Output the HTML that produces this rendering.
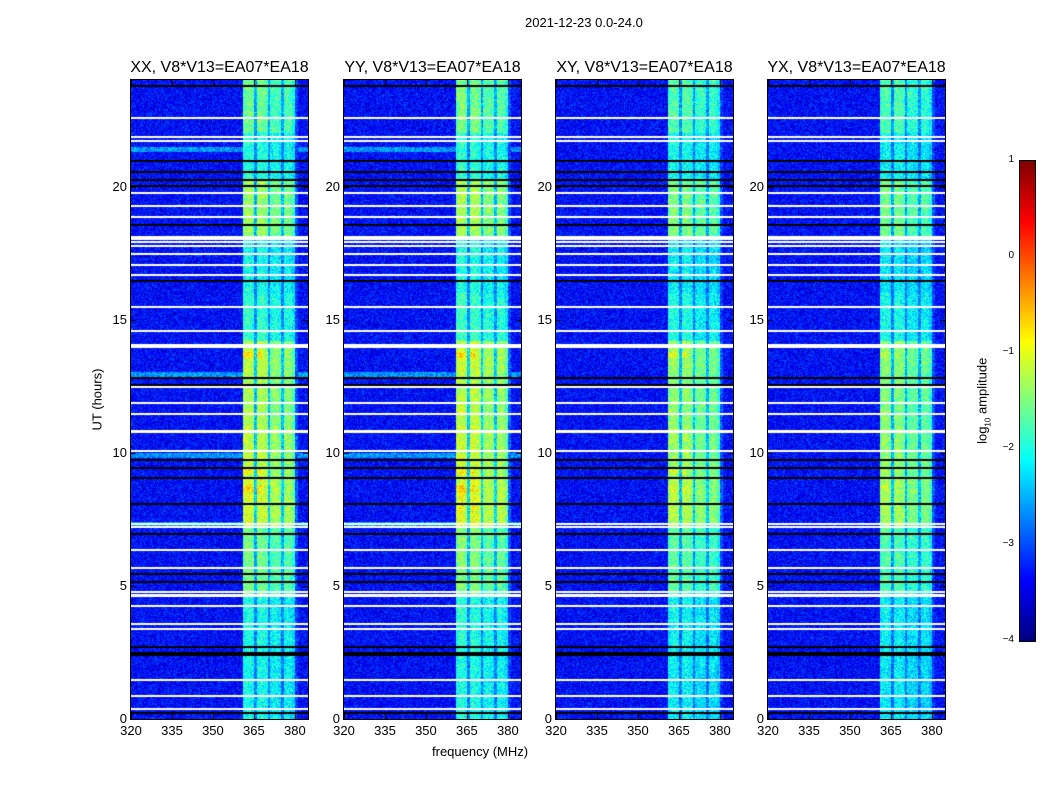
<!DOCTYPE html>
<html><head><meta charset="utf-8"><style>
body{margin:0;background:#fff;width:1050px;height:800px;position:relative;font-family:"Liberation Sans","DejaVu Sans",sans-serif;overflow:hidden}
.t{position:absolute;font-size:13px;color:#000;white-space:nowrap}
canvas{position:absolute}
</style></head><body>
<div class="t" style="left:525px;top:15px">2021-12-23 0.0-24.0</div>
<div class="t" style="left:432px;top:744px">frequency (MHz)</div>
<div class="t" style="left:52px;top:392px;transform:rotate(-90deg);transform-origin:center;width:90px;text-align:center">UT (hours)</div>
<div class="t" style="left:936px;top:392px;transform:rotate(-90deg);width:95px;text-align:center">log<sub style="font-size:8px">10</sub> amplitude</div>
<canvas id="cb" style="left:1019px;top:160px;border:1px solid #000" width="15" height="480"></canvas>
<div id="root"></div>
<script>
const panelTitles=["XX, V8*V13=EA07*EA18","YY, V8*V13=EA07*EA18","XY, V8*V13=EA07*EA18","YX, V8*V13=EA07*EA18"];
const panelLeft=[131,344,556,768];
const panelScale=[1.0,1.04,0.93,0.9];
const panelStripe=[1,1,0,0];
const panelHot=[1,0.8,0.7,0.3];
const xTicks=[320,335,350,365,380];
const yTicks=[0,5,10,15,20];
const cbTicks=[1,0,-1,-2,-3,-4];
// band amplitude per 1 MHz channel starting at 320 MHz
const bandAmp=[0,0,0,0,0,0,0,0,0,0,0,0,0,0,0,0,0,0,0,0,0,0,0,0,0,0,0,0,0,0,0,0,0,0,0,0,0,0,0,0,0,0.95,1,1,0.95,0.45,0.95,1,0.97,0.92,0.45,0.85,0.9,0.9,0.85,0.45,0.88,0.92,0.88,0.75,0.2,0,0,0,0,0];
// time activity segments [start hour, end hour, level]
const segStart=[0,2.3,4.7,7.2,9.0,11.0,13.0,14.2,16.0,18.0,20.3,22.0];
const segEnd=[2.3,4.7,7.2,9.0,11.0,13.0,14.2,16.0,18.0,20.3,22.0,24.0];
const segLevel=[0.58,0.6,0.8,1.0,0.95,0.92,0.95,0.65,0.58,0.88,0.62,0.78];
const whiteFlags=[22.6,21.9,21.75,19.8,19.3,18.9,18.15,18.05,17.95,17.8,17.5,17.1,16.7,15.5,14.6,14.1,14.0,12.5,11.9,11.5,10.85,10.8,10.1,7.35,7.25,6.4,5.7,4.8,4.7,4.65,4.3,3.6,3.4,1.5,0.9,0.4];
const blackFlags=[23.8,21.0,20.6,20.3,20.05,18.6,16.5,12.85,12.6,9.75,9.45,9.1,8.1,7.0,5.5,5.2,2.75,2.5,2.45,0.25];
const stripeHours=[21.4,12.95,9.9,7.3];
const hotStart=[13.55,9.2,8.5];const hotEnd=[13.8,9.4,8.8];const hotLevel=[0.45,0.35,0.3];

const W=177,H=639,F0=320,F1=384.8,T1=24;
function jet(v){
  const r=Math.min(Math.max(1.5-Math.abs(4*v-3),0),1),g=Math.min(Math.max(1.5-Math.abs(4*v-2),0),1),b=Math.min(Math.max(1.5-Math.abs(4*v-1),0),1);
  return [r*255|0,g*255|0,b*255|0];
}
function hash(a,b){let h=(a*374761393+b*668265263)|0;h=(h^(h>>>13))*1274126177|0;return ((h^(h>>>16))>>>0)/4294967295;}
const fx=f=>(f-F0)/(F1-F0)*W, ty=t=>H-t/T1*H;
const root=document.getElementById('root');
function el(tag,css,txt){const e=document.createElement(tag);e.style.cssText=css;if(txt!==undefined)e.textContent=txt;root.appendChild(e);return e;}
panelTitles.forEach((title,p)=>{
  const L=panelLeft[p];
  const tt=el('div','position:absolute;font-size:16px;top:59px;left:'+(L-12)+'px;width:'+(W+24)+'px;text-align:center;white-space:nowrap',title);
  
  
  const c=el('canvas','left:'+L+'px;top:80px;outline:1px solid #000');c.width=W;c.height=H;
  
  
  const ctx=c.getContext('2d');const img=ctx.createImageData(W,H);
  for(let y=0;y<H;y++){
    const t=(H-y-0.5)/H*T1;
    let row=0;for(let k=0;k<segStart.length;k++)if(t>=segStart[k]&&t<segEnd[k])row=segLevel[k];
    let stripe=0;if(panelStripe[p])for(const s of stripeHours)if(Math.abs(t-s)<0.1)stripe=0.7;
    let hot=0;for(let k=0;k<hotStart.length;k++)if(t>=hotStart[k]&&t<hotEnd[k])hot=hotLevel[k]*panelHot[p];
    for(let x=0;x<W;x++){
      const f=F0+(x+0.5)/W*(F1-F0);const ch=Math.floor(f-F0);const a=bandAmp[ch]||0;
      const n=hash(x+p*1000,y);
      let v=-3.35+(n-0.5)*0.8+(a>0?0:stripe)+a*row*panelScale[p]*2.3*(0.9+0.2*hash(y,x*7))+(a>0.5&&f<368?hot:0);
      const col=jet(Math.min(Math.max((v+4)/5,0),1));const i=(y*W+x)*4;
      img.data[i]=col[0];img.data[i+1]=col[1];img.data[i+2]=col[2];img.data[i+3]=255;
    }
  }
  ctx.putImageData(img,0,0);
  ctx.fillStyle='#fff';whiteFlags.forEach(t=>ctx.fillRect(0,Math.round(ty(t)),W,2));
  ctx.fillStyle='#000';blackFlags.forEach(t=>ctx.fillRect(0,Math.round(ty(t)),W,2));
  ctx.strokeStyle='#000';
  xTicks.forEach(v=>{const x=Math.round(fx(v))+0.5;ctx.beginPath();ctx.moveTo(x,H);ctx.lineTo(x,H-5);ctx.moveTo(x,0);ctx.lineTo(x,5);ctx.stroke();
    const lb=el('div','position:absolute;font-size:13px;top:'+(80+H+4)+'px;left:'+(L+fx(v)-15)+'px;width:30px;text-align:center',String(v));
    
    });
  yTicks.forEach(v=>{const y=Math.round(ty(v))+0.5;ctx.beginPath();ctx.moveTo(0,y);ctx.lineTo(5,y);ctx.moveTo(W,y);ctx.lineTo(W-5,y);ctx.stroke();
    const lb=el('div','position:absolute;font-size:13px;top:'+(80+ty(v)-8)+'px;left:'+(L-34)+'px;width:30px;text-align:right',String(v));
    
    });
});
const cb=document.getElementById('cb');const cx=cb.getContext('2d');
for(let y=0;y<480;y++){const c=jet(1-y/479);cx.fillStyle='rgb('+c+')';cx.fillRect(0,y,15,1);}
cbTicks.forEach(v=>{const y=160+(1-v)/5*480;
  const lb=el('div','position:absolute;font-size:10px;top:'+(y-6)+'px;left:990px;width:24px;text-align:right',v<0?'\u2212'+(-v):String(v));
  
  });
</script>
</body></html>
